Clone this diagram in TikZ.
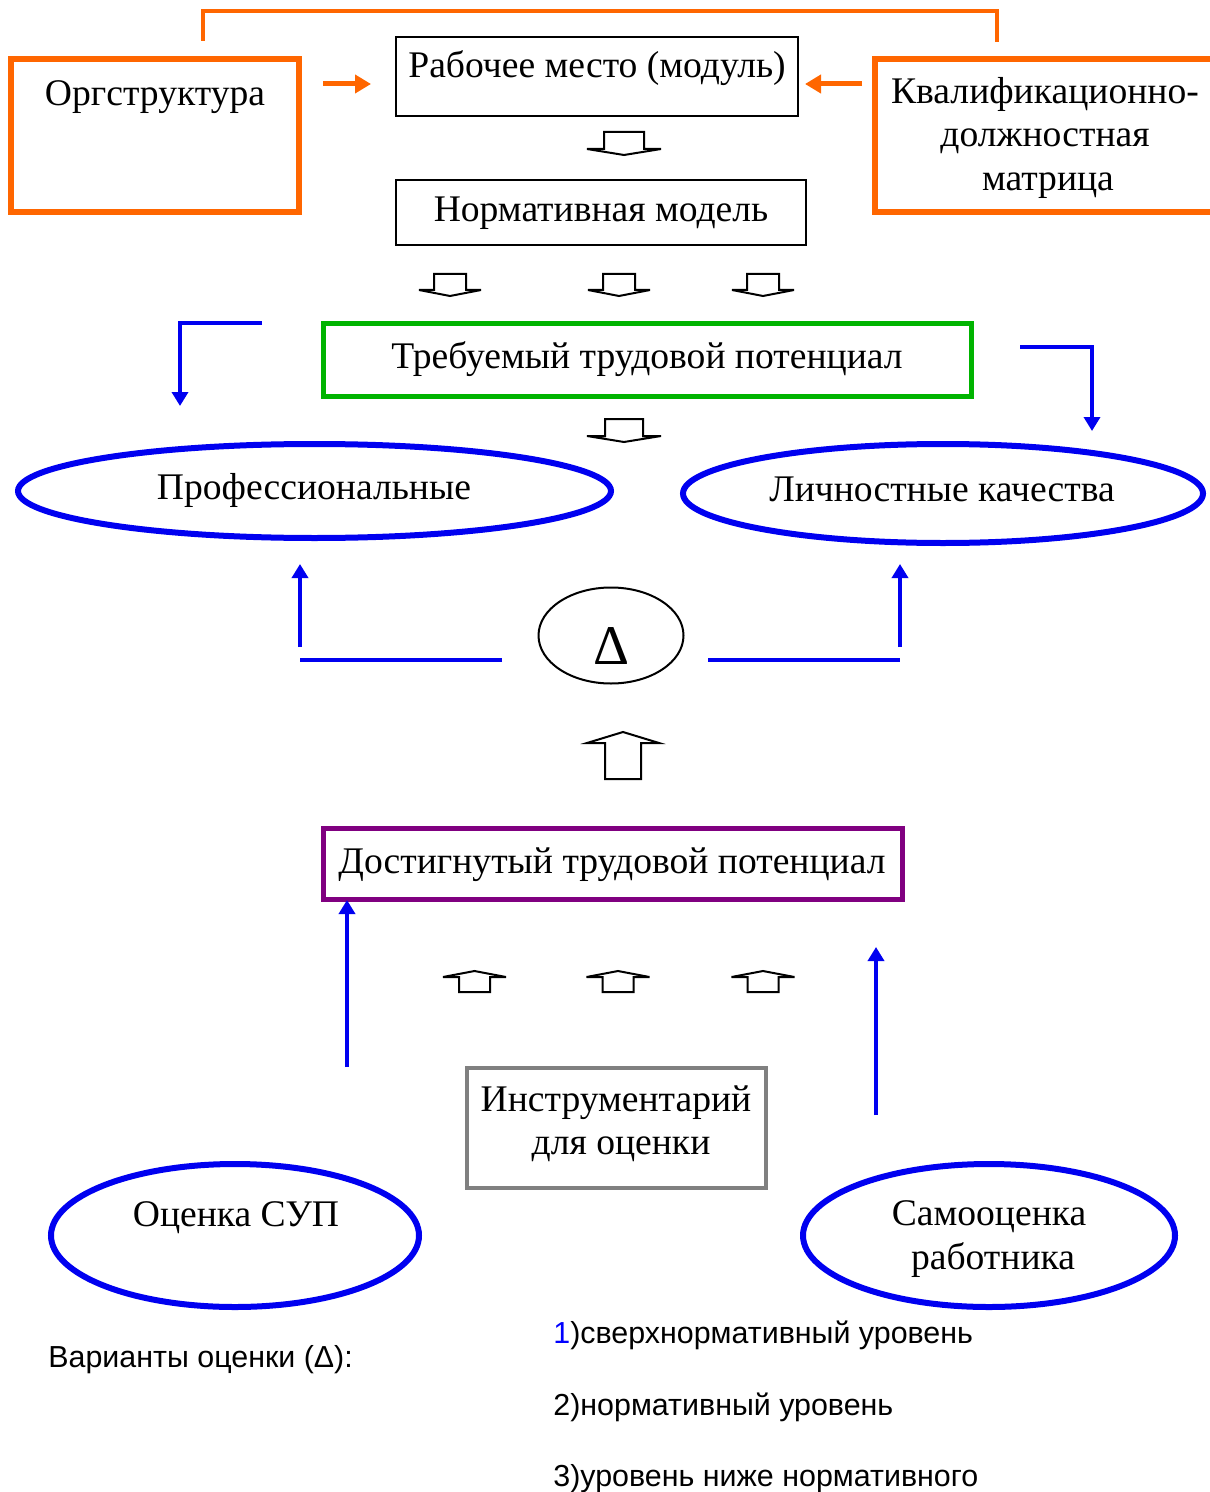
\documentclass[tikz,border=0pt]{standalone}
\usepackage{fontspec}
\setmainfont{Liberation Serif}
\setsansfont{Liberation Sans}
\usetikzlibrary{arrows.meta,shapes.geometric}
\definecolor{orng}{HTML}{FF6600}
\definecolor{bluel}{HTML}{0000F0}
\definecolor{grn}{HTML}{00B400}
\definecolor{purp}{HTML}{800080}
\definecolor{gry}{HTML}{808080}

% hollow block arrows: x, start y, stem half-width, head half-width, head base y, tip y
\newcommand{\blockdown}[6]{%
  \draw[blockarrow] (#1-#3,#2) -- (#1-#3,#5) -- (#1-#4,#5) -- (#1,#6) -- (#1+#4,#5) -- (#1+#3,#5) -- (#1+#3,#2) -- cycle;}
\newcommand{\blockup}[6]{%
  \draw[blockarrow] (#1-#3,#2) -- (#1-#3,#5) -- (#1-#4,#5) -- (#1,#6) -- (#1+#4,#5) -- (#1+#3,#5) -- (#1+#3,#2) -- cycle;}

\begin{document}
\begin{tikzpicture}[x=0.5pt,y=-0.5pt,
  txt/.style={font=\fontsize{18.8}{22}\selectfont, inner sep=0pt, anchor=base},
  note/.style={font=\sffamily\fontsize{15.2}{18}\selectfont, inner sep=0pt, anchor=base west},
  obox/.style={draw=orng, line width=3pt, rectangle, inner sep=0pt},
  kbox/.style={draw=black, line width=1pt, rectangle, inner sep=0pt},
  bell/.style={draw=bluel, line width=3pt, ellipse, inner sep=0pt},
  orarrow/.style={draw=orng, line width=2.5pt, -{Triangle[length=8pt,width=9pt]}},
  blarrow/.style={draw=bluel, line width=2pt, -{Triangle[length=7pt,width=8pt]}},
  blline/.style={draw=bluel, line width=2pt},
  blockarrow/.style={draw=black, line width=1pt, fill=white, line join=miter}]
\useasboundingbox (0,0) rectangle (1209,1492);

% --- top row ---
\node[obox, minimum width=144pt, minimum height=76.5pt] (org) at (155,135.5) {};
\node[txt] (orgT) at (155,106) {Оргструктура};
\node[kbox, minimum width=201pt, minimum height=39.5pt] (rm) at (597,76.5) {};
\node[txt] (rmT) at (597,78) {Рабочее место (модуль)};
\node[obox, minimum width=172.5pt, minimum height=76.5pt] (kdm) at (1047.5,135.5) {};
\node[txt] (kdm1) at (1045,104) {Квалификационно-};
\node[txt] (kdm2) at (1045,147) {должностная};
\node[txt] (kdm3) at (1048,191) {матрица};

\coordinate (oL) at (203,41);
\coordinate (oR) at (997,42);
\draw[orng, line width=2pt] (oL) -- (203,11) -- (997,11) -- (oR);

\coordinate (a1s) at (323,84); \coordinate (a1e) at (371,84);
\coordinate (a2s) at (862,84); \coordinate (a2e) at (805,84);
\draw[orarrow] (a1s) -- (a1e);
\draw[orarrow] (a2s) -- (a2e);

\blockdown{624}{132}{20}{37}{149}{155}

\node[kbox, minimum width=205pt, minimum height=32.5pt] (nm) at (601,212.5) {};
\node[txt] (nmT) at (601,222) {Нормативная модель};

\blockdown{450}{274}{16}{31}{290}{296}
\blockdown{619}{274}{16}{31}{290}{296}
\blockdown{763}{274}{16}{31}{290}{296}

% --- required potential ---
\node[draw=grn, line width=2.5pt, rectangle, inner sep=0pt, minimum width=324pt, minimum height=36pt] (req) at (647,360) {};
\node[txt] (reqT) at (647,368) {Требуемый трудовой потенциал};

\coordinate (lb1) at (262,323); \coordinate (lb2) at (180,406);
\draw[blarrow] (lb1) -| (lb2);
\coordinate (rb1) at (1020,347); \coordinate (rb2) at (1092,431);
\draw[blarrow] (rb1) -| (rb2);

\blockdown{624}{419}{19}{37}{436}{442}

\node[bell, minimum width=296.5pt, minimum height=47pt] (prof) at (314.5,491) {};
\node[txt] (profT) at (314,499) {Профессиональные};
\node[bell, minimum width=260pt, minimum height=49.5pt] (lich) at (943,493.5) {};
\node[txt] (lichT) at (942,501) {Личностные качества};

% --- delta ---
\node[draw=black, line width=1pt, ellipse, inner sep=0pt, minimum width=72.5pt, minimum height=48pt] (dl) at (611,635.5) {};
\node[txt, font=\fontsize{28}{30}\selectfont] (dlT) at (611,664) {Δ};

\coordinate (dlL) at (502,660); \coordinate (pL) at (300,660);
\draw[blline] (dlL) -- (pL);
\coordinate (pB) at (300,647); \coordinate (pU) at (300,564);
\draw[blarrow] (pB) -- (pU);
\coordinate (dlR) at (708,660); \coordinate (lR) at (900,660);
\draw[blline] (dlR) -- (lR);
\coordinate (lB) at (900,647); \coordinate (lU) at (900,564);
\draw[blarrow] (lB) -- (lU);

\blockup{623}{779}{18}{36}{743}{732}

% --- achieved potential ---
\node[draw=purp, line width=2.5pt, rectangle, inner sep=0pt, minimum width=289.5pt, minimum height=35.5pt] (ach) at (612.5,863.5) {};
\node[txt] (achT) at (612,873) {Достигнутый трудовой потенциал};

\coordinate (s1) at (347,1067); \coordinate (e1) at (347,900);
\draw[blarrow] (s1) -- (e1);
\coordinate (s2) at (876,1115); \coordinate (e2) at (876,947);
\draw[blarrow] (s2) -- (e2);

\blockup{474.5}{992}{15.5}{31.5}{977}{971}
\blockup{618}{992}{15.5}{31.5}{977}{971}
\blockup{763}{992}{15.5}{31.5}{977}{971}

\node[draw=gry, line width=2pt, rectangle, inner sep=0pt, minimum width=149.5pt, minimum height=60pt] (ins) at (616.5,1128) {};
\node[txt] (ins1) at (616,1111) {Инструментарий};
\node[txt] (ins2) at (621,1154) {для оценки};

\node[bell, minimum width=184pt, minimum height=71.5pt] (sup) at (235,1235.5) {};
\node[txt] (supT) at (236,1226) {Оценка СУП};
\node[bell, minimum width=186pt, minimum height=71.5pt] (self) at (989,1235.5) {};
\node[txt] (self1) at (989,1225) {Самооценка};
\node[txt] (self2) at (993,1269) {работника};

% --- notes ---
\node[note] (var) at (48,1367) {Варианты оценки (Δ):};
\node[note] (v1) at (553,1343) {{\color{blue}1})сверхнормативный уровень};
\node[note] (v2) at (553,1415) {2)нормативный уровень};
\node[note] (v3) at (553,1486) {3)уровень ниже нормативного};
\end{tikzpicture}
\end{document}
